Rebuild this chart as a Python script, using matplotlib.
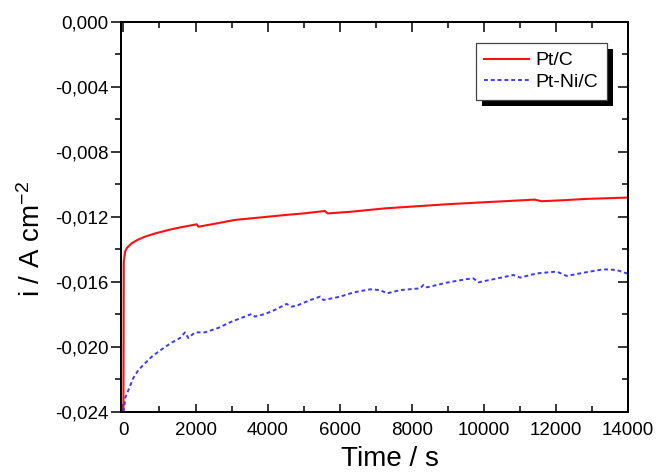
import numpy as np
import matplotlib
matplotlib.use('Agg')
import matplotlib.pyplot as plt
from matplotlib.ticker import MultipleLocator, FuncFormatter, NullFormatter
from matplotlib.patches import Rectangle

plt.rcParams['font.family'] = ['Liberation Sans', 'DejaVu Sans']
plt.rcParams['mathtext.default'] = 'regular'

# Pt/C chronoamperometry (time in s, current density in A cm^-2)
t_ptc = [0, 5, 10, 46, 100, 230, 400, 600, 900, 1250, 1600, 2035, 2080,
         2500, 3095, 3800, 4480, 5000, 5590, 5665, 6300, 7255, 8200,
         9100, 10300, 11410, 11595, 12200, 12800, 13925, 14000]
i_ptc = [-0.0240, -0.0200, -0.0148, -0.01413, -0.0139, -0.01362, -0.0134,
         -0.01321, -0.0130, -0.0128, -0.01263, -0.01245, -0.01260,
         -0.01243, -0.01218, -0.01203, -0.01188, -0.01178, -0.01163,
         -0.01178, -0.01168, -0.01147, -0.01133, -0.0112, -0.01106,
         -0.01093, -0.01103, -0.01097, -0.01089, -0.01081, -0.0108]

# Pt-Ni/C
t_ptni = [0, 28, 46, 139, 277, 416, 600, 785, 915, 1155, 1340, 1570, 1710,
          1800, 1985, 2265, 2630, 3000, 3370, 3555, 3650, 3925, 4200, 4525,
          4665, 4850, 5185, 5460, 5550, 6015, 6385, 6850, 7125, 7310, 7680,
          8230, 8325, 8420, 8970, 9530, 9710, 9850, 10265, 10820, 11005,
          11470, 12020, 12300, 12760, 13315, 13685, 13960, 14000]
i_ptni = [-0.0240, -0.02367, -0.02315, -0.02265, -0.0219, -0.02142, -0.0210,
          -0.0206, -0.02038, -0.0200, -0.01973, -0.01945, -0.0191, -0.01945,
          -0.0191, -0.0191, -0.01883, -0.01844, -0.01813, -0.01797, -0.01813,
          -0.01797, -0.01772, -0.01735, -0.01752, -0.01742, -0.01711,
          -0.0169, -0.01711, -0.0169, -0.01664, -0.01645, -0.0165, -0.0167,
          -0.0165, -0.01639, -0.01618, -0.01633, -0.01604, -0.01582,
          -0.01578, -0.01602, -0.01583, -0.01557, -0.01573, -0.01547,
          -0.01536, -0.01563, -0.01543, -0.01522, -0.01526, -0.01547,
          -0.0154]

xlim = (-70, 14000)
ylim = (-0.024, 0.0)

fig = plt.figure(figsize=(6.57, 4.73), dpi=100)
ax = fig.add_axes([0.184, 0.129, 0.772, 0.8245])

ax.plot(t_ptc, i_ptc, color='#ff1010', lw=1.5, label='Pt/C')
ax.plot(t_ptni, i_ptni, color='#3a3aff', lw=1.4, ls=(0, (2, 1.5)),
        label='Pt-Ni/C')

ax.set_xlim(xlim)
ax.set_ylim(ylim)
ax.xaxis.set_major_locator(MultipleLocator(2000))
ax.xaxis.set_minor_locator(MultipleLocator(1000))
ax.yaxis.set_major_locator(MultipleLocator(0.004))
ax.yaxis.set_minor_locator(MultipleLocator(0.002))
ax.yaxis.set_major_formatter(FuncFormatter(
    lambda v, p: ('%.3f' % v).replace('.', ',').replace('-0,000', '0,000')))

for s in ax.spines.values():
    s.set_linewidth(1.3)

ax.tick_params(axis='both', which='both', labelsize=13.5, width=1.1)
ax.tick_params(axis='x', which='major', direction='in', length=6, pad=7)
ax.tick_params(axis='x', which='minor', direction='in', length=4)
ax.tick_params(axis='y', which='major', direction='out', length=7, pad=2)
ax.tick_params(axis='y', which='minor', direction='out', length=4)

# top and right: ticks pointing inward, no labels
axt = ax.twiny()
axt.set_xlim(xlim)
axt.xaxis.set_major_locator(MultipleLocator(2000))
axt.xaxis.set_minor_locator(MultipleLocator(1000))
axt.xaxis.set_major_formatter(NullFormatter())
axt.tick_params(axis='x', which='major', direction='in', length=7, width=1.1)
axt.tick_params(axis='x', which='minor', direction='in', length=4, width=1.1)

axr = ax.twinx()
axr.set_ylim(ylim)
axr.yaxis.set_major_locator(MultipleLocator(0.004))
axr.yaxis.set_minor_locator(MultipleLocator(0.002))
axr.yaxis.set_major_formatter(NullFormatter())
axr.tick_params(axis='y', which='major', direction='in', length=7, width=1.1)
axr.tick_params(axis='y', which='minor', direction='in', length=4, width=1.1)
for a in (axt, axr):
    for s in a.spines.values():
        s.set_linewidth(1.3)

ax.set_xlabel('Time / s', fontsize=20)
ax.set_ylabel('i / A cm$^{-2}$', fontsize=20)
ax.xaxis.set_label_coords(0.531, -0.088)
ax.yaxis.set_label_coords(-0.148, 0.444)

leg = axr.legend(*ax.get_legend_handles_labels(), loc='upper right',
                 bbox_to_anchor=(0.959, 0.946),
                 borderaxespad=0, fontsize=14, frameon=True, fancybox=False,
                 framealpha=1, edgecolor='#444444', handlelength=2.3,
                 handletextpad=0.35, labelspacing=0.2, borderpad=0.45)
leg.get_frame().set_linewidth(0.9)
leg.set_zorder(5)

# solid black drop shadow behind the legend box
fig.canvas.draw()
bb = leg.get_frame().get_window_extent()
shadow = Rectangle((bb.x0 + 6, bb.y0 - 6), bb.width, bb.height,
                   transform=None, facecolor='black', edgecolor='none',
                   zorder=4)
axr.add_artist(shadow)

fig.savefig('out.png', dpi=100)
